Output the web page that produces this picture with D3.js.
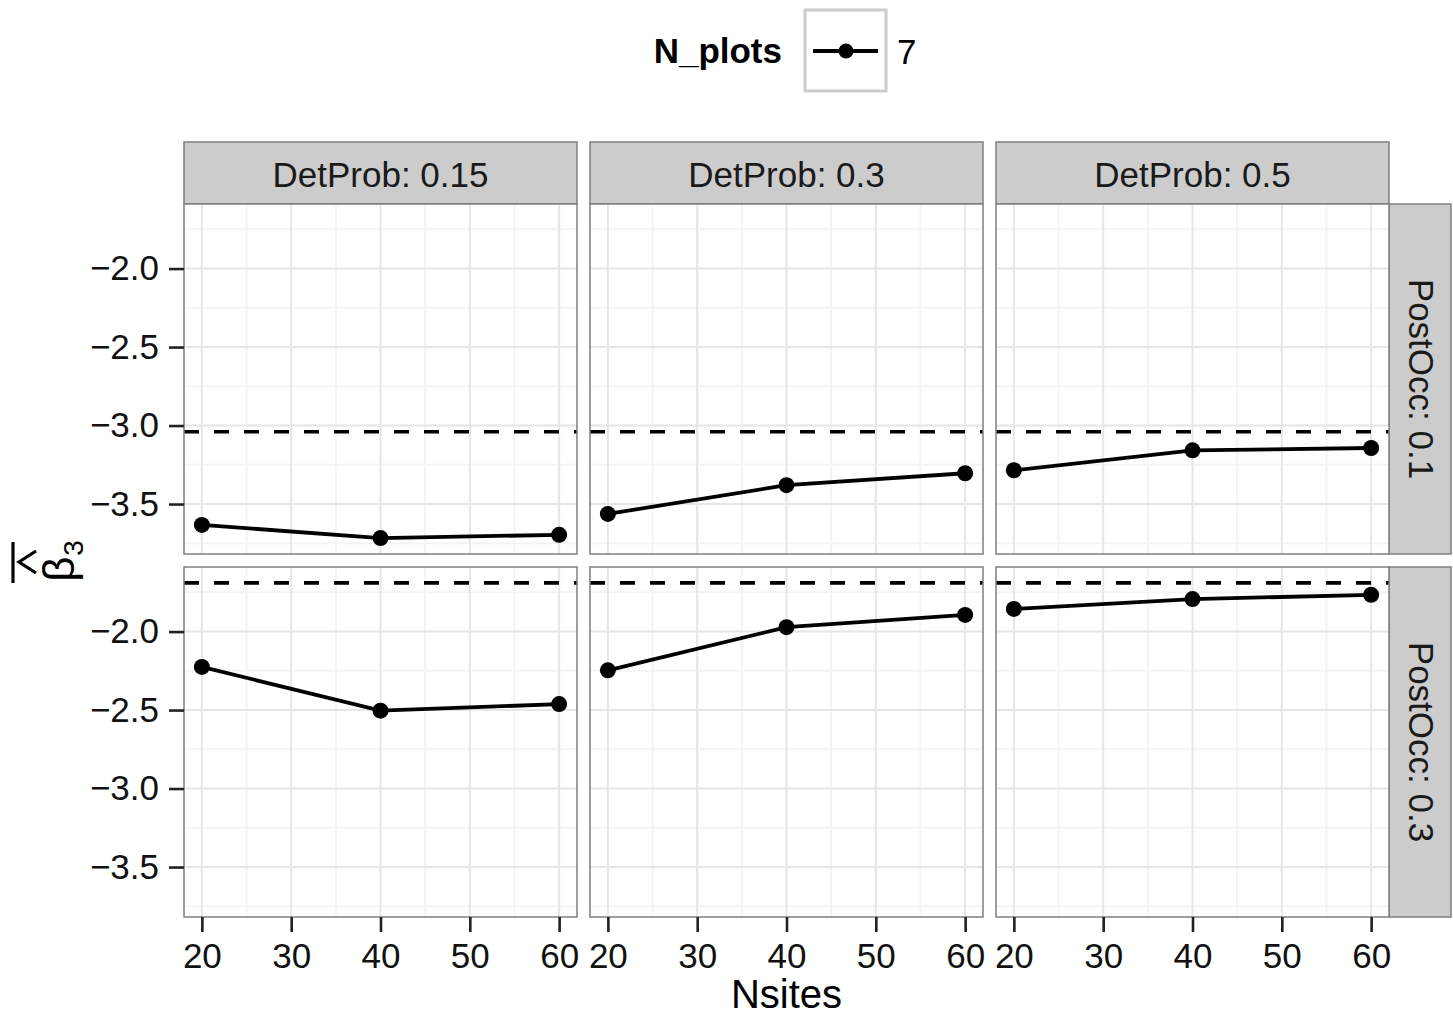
<!DOCTYPE html>
<html>
<head>
<meta charset="utf-8">
<script src="https://cdn.jsdelivr.net/npm/d3@7"></script>
<style>
  html, body { margin: 0; padding: 0; background: #ffffff; }
  svg { display: block; font-family: "Liberation Sans", Arial, Helvetica, sans-serif; }
</style>
</head>
<body>
<svg id="chart" width="1453" height="1018"></svg>
<script>
// Facet levels
const detProbs = ["0.15", "0.3", "0.5"];
const postOccs = ["0.1", "0.3"];
const nsites = [20, 40, 60];
const nPlots = ["7"];

// True beta3 per PostOcc row (dashed reference lines)
const trueBeta3 = [-3.04, -1.69];

// Mean estimated beta3, one array per DetProb column, for each PostOcc row
const estPostOcc01 = [
  [-3.633, -3.717, -3.696],
  [-3.563, -3.380, -3.304],
  [-3.285, -3.158, -3.143]
];
const estPostOcc03 = [
  [-2.225, -2.504, -2.462],
  [-2.247, -1.972, -1.894],
  [-1.856, -1.793, -1.766]
];
const estByRow = [estPostOcc01, estPostOcc03];

const xTicks = [20, 30, 40, 50, 60];
const xMinor = [25, 35, 45, 55];
const yTicks = [-2.0, -2.5, -3.0, -3.5];
const yMinor = [-1.75, -2.25, -2.75, -3.25, -3.75];

// Layout
const svg = d3.select("#chart");
const colX = [184, 590, 996];
const panelW = 393;
const rowY = [204, 567];
const panelH = 350;
const stripH = 62;
const stripW = 62;
const fs = 35;

// Scales shared across facets (ggplot-style 5% expansion)
const allY = estByRow.flat(2).concat(trueBeta3);
const yMin = d3.min(allY), yMax = d3.max(allY);
const yPad = (yMax - yMin) * 0.05;
const y = d3.scaleLinear().domain([yMin - yPad, yMax + yPad]).range([panelH, 0]);
const xPad = (d3.max(nsites) - d3.min(nsites)) * 0.05;
const x = d3.scaleLinear().domain([d3.min(nsites) - xPad, d3.max(nsites) + xPad]).range([0, panelW]);

const line = d3.line().x((d, i) => x(nsites[i])).y(d => y(d));

// Column strips
detProbs.forEach((dp, c) => {
  const g = svg.append("g").attr("transform", `translate(${colX[c]},${rowY[0] - stripH})`);
  g.append("rect").attr("width", panelW).attr("height", stripH)
    .attr("fill", "#cccccc").attr("stroke", "#7f7f7f").attr("stroke-width", 1.5);
  g.append("text").attr("x", panelW / 2).attr("y", stripH / 2 + 1)
    .attr("text-anchor", "middle").attr("dominant-baseline", "central")
    .attr("font-size", fs).attr("fill", "#1a1a1a").text(`DetProb: ${dp}`);
});

// Row strips
postOccs.forEach((po, r) => {
  const g = svg.append("g").attr("transform", `translate(${colX[2] + panelW},${rowY[r]})`);
  g.append("rect").attr("width", stripW).attr("height", panelH)
    .attr("fill", "#cccccc").attr("stroke", "#7f7f7f").attr("stroke-width", 1.5);
  g.append("text")
    .attr("transform", `translate(${stripW / 2 + 1},${panelH / 2}) rotate(90)`)
    .attr("text-anchor", "middle").attr("dominant-baseline", "central")
    .attr("font-size", fs).attr("fill", "#1a1a1a").text(`PostOcc: ${po}`);
});

// Panels
postOccs.forEach((po, r) => {
  detProbs.forEach((dp, c) => {
    const g = svg.append("g").attr("transform", `translate(${colX[c]},${rowY[r]})`);
    g.append("rect").attr("width", panelW).attr("height", panelH).attr("fill", "#ffffff");

    // minor grid
    g.selectAll(".xminor").data(xMinor).enter().append("line")
      .attr("x1", d => x(d)).attr("x2", d => x(d)).attr("y1", 0).attr("y2", panelH)
      .attr("stroke", "#f4f4f4").attr("stroke-width", 2);
    g.selectAll(".yminor").data(yMinor).enter().append("line")
      .attr("y1", d => y(d)).attr("y2", d => y(d)).attr("x1", 0).attr("x2", panelW)
      .attr("stroke", "#f4f4f4").attr("stroke-width", 2);
    // major grid
    g.selectAll(".xmajor").data(xTicks).enter().append("line")
      .attr("x1", d => x(d)).attr("x2", d => x(d)).attr("y1", 0).attr("y2", panelH)
      .attr("stroke", "#e6e6e6").attr("stroke-width", 2);
    g.selectAll(".ymajor").data(yTicks).enter().append("line")
      .attr("y1", d => y(d)).attr("y2", d => y(d)).attr("x1", 0).attr("x2", panelW)
      .attr("stroke", "#e6e6e6").attr("stroke-width", 2);

    // true value reference line
    g.append("line")
      .attr("x1", 0).attr("x2", panelW)
      .attr("y1", y(trueBeta3[r])).attr("y2", y(trueBeta3[r]))
      .attr("stroke", "#000").attr("stroke-width", 3.6).attr("stroke-dasharray", "15,15");

    // estimate line + points
    const vals = estByRow[r][c];
    g.append("path").datum(vals).attr("d", line)
      .attr("fill", "none").attr("stroke", "#000").attr("stroke-width", 3.8);
    g.selectAll(".pt").data(vals).enter().append("circle")
      .attr("cx", (d, i) => x(nsites[i])).attr("cy", d => y(d)).attr("r", 8)
      .attr("fill", "#000");

    g.append("rect").attr("width", panelW).attr("height", panelH)
      .attr("fill", "none").attr("stroke", "#7f7f7f").attr("stroke-width", 1.5);

    // y axis on first column
    if (c === 0) {
      const ax = g.append("g").call(d3.axisLeft(y).tickValues(yTicks).tickSize(15).tickPadding(10)
        .tickFormat(d => d3.format(".1f")(d).replace("-", "\u2212")));
      ax.select(".domain").remove();
      ax.selectAll("line").attr("stroke", "#222").attr("stroke-width", 2.6);
      ax.selectAll("text").attr("font-size", fs).attr("fill", "#111")
        .attr("font-family", "Liberation Sans, Arial, sans-serif");
    }
    // x axis on bottom row
    if (r === postOccs.length - 1) {
      const ax = g.append("g").attr("transform", `translate(0,${panelH})`)
        .call(d3.axisBottom(x).tickValues(xTicks).tickSize(15).tickPadding(11));
      ax.select(".domain").remove();
      ax.selectAll("line").attr("stroke", "#222").attr("stroke-width", 2.6);
      ax.selectAll("text").attr("font-size", fs).attr("fill", "#111")
        .attr("font-family", "Liberation Sans, Arial, sans-serif");
    }
  });
});

// x axis title
svg.append("text").attr("x", (colX[0] + colX[2] + panelW) / 2).attr("y", 1008)
  .attr("text-anchor", "middle").attr("font-size", 40).attr("fill", "#000").text("Nsites");

// y axis title: mean of beta-hat with subscript 3 (rotated)
const yt = svg.append("g").attr("transform", "translate(74,568) rotate(-90)");
yt.append("text").attr("x", -1).attr("y", 0).attr("text-anchor", "middle")
  .attr("font-size", 44).attr("fill", "#000").text("\u03B2");
yt.append("text").attr("x", 20).attr("y", 9).attr("text-anchor", "middle")
  .attr("font-size", 28).attr("fill", "#000").text("3");
yt.append("path").attr("d", "M-5,-38 L6,-55 L17,-38")
  .attr("fill", "none").attr("stroke", "#000").attr("stroke-width", 3.2);
yt.append("line").attr("x1", -15).attr("x2", 26).attr("y1", -61).attr("y2", -61)
  .attr("stroke", "#000").attr("stroke-width", 3.2);

// Legend
const lg = svg.append("g");
lg.append("text").attr("x", 782).attr("y", 63).attr("text-anchor", "end")
  .attr("font-size", fs).attr("font-weight", "bold").attr("fill", "#000").text("N_plots");
lg.append("rect").attr("x", 805).attr("y", 10).attr("width", 81).attr("height", 81)
  .attr("fill", "#ffffff").attr("stroke", "#cccccc").attr("stroke-width", 3);
nPlots.forEach((n, i) => {
  lg.append("line").attr("x1", 813).attr("x2", 878).attr("y1", 51).attr("y2", 51)
    .attr("stroke", "#000").attr("stroke-width", 3.8);
  lg.append("circle").attr("cx", 846).attr("cy", 51).attr("r", 7.5).attr("fill", "#000");
  lg.append("text").attr("x", 897).attr("y", 64).attr("font-size", fs).attr("fill", "#000").text(n);
});
</script>
</body>
</html>
